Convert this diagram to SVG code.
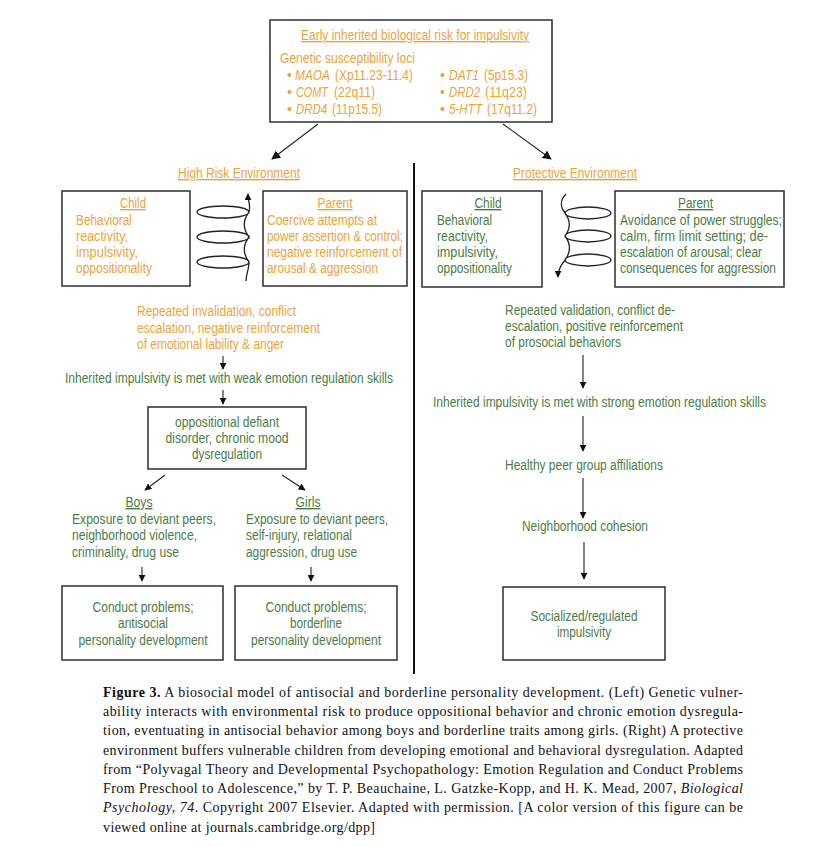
<svg xmlns="http://www.w3.org/2000/svg" width="839" height="847" viewBox="0 0 839 847">
<style>
text{font-family:"Liberation Sans",Arial,sans-serif;font-size:14px}
.o{fill:#EBA33D}
.g{fill:#4A7C44}
.i{font-style:italic}
.u{text-decoration:underline}
.m{text-anchor:middle}
.box{fill:#fff;stroke:#3a3a3a;stroke-width:1.6}
.ln{fill:none;stroke:#222;stroke-width:1.1}
.sp{fill:none;stroke:#222;stroke-width:1.3}
.cap{font-family:"Liberation Serif","Times New Roman",serif;font-size:14px;fill:#111}
</style>
<defs>
<marker id="ah" viewBox="0 0 10 10" refX="9" refY="5" markerWidth="7" markerHeight="7" markerUnits="userSpaceOnUse" orient="auto">
<path d="M0,0 L10,5 L0,10 z" fill="#111"/>
</marker>
<marker id="ahL" viewBox="0 0 10 10" refX="9" refY="5" markerWidth="9" markerHeight="9" markerUnits="userSpaceOnUse" orient="auto">
<path d="M0,0 L10,5 L0,10 z" fill="#111"/>
</marker>
</defs>
<rect width="839" height="847" fill="#fff"/>

<g id="risk">
<rect class="box" x="270" y="20" width="282" height="102"/>
<text class="o u" x="301" y="40" textLength="228" lengthAdjust="spacingAndGlyphs">Early inherited biological risk for impulsivity</text>
<text class="o" x="280" y="63" textLength="135" lengthAdjust="spacingAndGlyphs">Genetic susceptibility loci</text>
<text class="o" x="287" y="80">•</text>
<text class="o i" x="295" y="80" textLength="35" lengthAdjust="spacingAndGlyphs">MAOA</text>
<text class="o" x="335" y="80" textLength="78" lengthAdjust="spacingAndGlyphs">(Xp11.23-11.4)</text>
<text class="o" x="287" y="97">•</text>
<text class="o i" x="296" y="97" textLength="32" lengthAdjust="spacingAndGlyphs">COMT</text>
<text class="o" x="334" y="97" textLength="41" lengthAdjust="spacingAndGlyphs">(22q11)</text>
<text class="o" x="287" y="114">•</text>
<text class="o i" x="296" y="114" textLength="31" lengthAdjust="spacingAndGlyphs">DRD4</text>
<text class="o" x="332" y="114" textLength="50" lengthAdjust="spacingAndGlyphs">(11p15.5)</text>
<text class="o" x="440" y="80">•</text>
<text class="o i" x="449" y="80" textLength="30" lengthAdjust="spacingAndGlyphs">DAT1</text>
<text class="o" x="484" y="80" textLength="44" lengthAdjust="spacingAndGlyphs">(5p15.3)</text>
<text class="o" x="440" y="97">•</text>
<text class="o i" x="449" y="97" textLength="31" lengthAdjust="spacingAndGlyphs">DRD2</text>
<text class="o" x="485" y="97" textLength="42" lengthAdjust="spacingAndGlyphs">(11q23)</text>
<text class="o" x="440" y="114">•</text>
<text class="o i" x="449" y="114" textLength="33" lengthAdjust="spacingAndGlyphs">5-HTT</text>
<text class="o" x="487" y="114" textLength="50" lengthAdjust="spacingAndGlyphs">(17q11.2)</text>
</g>

<g id="high-risk-title">
<text class="o u" x="178" y="178" textLength="122" lengthAdjust="spacingAndGlyphs">High Risk Environment</text>
</g>
<g id="protective-title">
<text class="o u" x="513" y="178" textLength="124" lengthAdjust="spacingAndGlyphs">Protective Environment</text>
</g>

<g id="child-left">
<rect class="box" x="62" y="191" width="128" height="95"/>
<text class="o u m" x="133" y="208" textLength="26" lengthAdjust="spacingAndGlyphs">Child</text>
<text class="o" x="76" y="225" textLength="56" lengthAdjust="spacingAndGlyphs">Behavioral</text>
<text class="o" x="76" y="241" textLength="52" lengthAdjust="spacingAndGlyphs">reactivity,</text>
<text class="o" x="76" y="257" textLength="62" lengthAdjust="spacingAndGlyphs">impulsivity,</text>
<text class="o" x="76" y="273" textLength="76" lengthAdjust="spacingAndGlyphs">oppositionality</text>
</g>

<g id="parent-left">
<rect class="box" x="263" y="191" width="144" height="95"/>
<text class="o u m" x="335" y="208" textLength="35" lengthAdjust="spacingAndGlyphs">Parent</text>
<text class="o" x="267" y="225" textLength="110" lengthAdjust="spacingAndGlyphs">Coercive attempts at</text>
<text class="o" x="267" y="241" textLength="136" lengthAdjust="spacingAndGlyphs">power assertion &amp; control;</text>
<text class="o" x="267" y="257" textLength="135" lengthAdjust="spacingAndGlyphs">negative reinforcement of</text>
<text class="o" x="267" y="273" textLength="111" lengthAdjust="spacingAndGlyphs">arousal &amp; aggression</text>
</g>

<g id="child-right">
<rect class="box" x="422" y="191" width="120" height="96"/>
<text class="g u m" x="488" y="208" textLength="27" lengthAdjust="spacingAndGlyphs">Child</text>
<text class="g" x="437" y="225" textLength="55" lengthAdjust="spacingAndGlyphs">Behavioral</text>
<text class="g" x="437" y="241" textLength="51" lengthAdjust="spacingAndGlyphs">reactivity,</text>
<text class="g" x="437" y="257" textLength="61" lengthAdjust="spacingAndGlyphs">impulsivity,</text>
<text class="g" x="437" y="273" textLength="75" lengthAdjust="spacingAndGlyphs">oppositionality</text>
</g>

<g id="parent-right">
<rect class="box" x="615" y="191" width="169" height="96"/>
<text class="g u m" x="695.5" y="208" textLength="35" lengthAdjust="spacingAndGlyphs">Parent</text>
<text class="g" x="620" y="225" textLength="162" lengthAdjust="spacingAndGlyphs">Avoidance of power struggles;</text>
<text class="g" x="620" y="241" textLength="148" lengthAdjust="spacingAndGlyphs">calm, firm limit setting; de-</text>
<text class="g" x="620" y="257" textLength="142" lengthAdjust="spacingAndGlyphs">escalation of arousal; clear</text>
<text class="g" x="620" y="273" textLength="156" lengthAdjust="spacingAndGlyphs">consequences for aggression</text>
</g>

<g id="invalidation">
<text class="o" x="137" y="316" textLength="159" lengthAdjust="spacingAndGlyphs">Repeated invalidation, conflict</text>
<text class="o" x="137" y="333" textLength="183" lengthAdjust="spacingAndGlyphs">escalation, negative reinforcement</text>
<text class="o" x="137" y="349" textLength="147" lengthAdjust="spacingAndGlyphs">of emotional lability &amp; anger</text>
</g>
<g id="weak-skills">
<text class="g" x="65" y="383" textLength="328" lengthAdjust="spacingAndGlyphs">Inherited impulsivity is met with weak emotion regulation skills</text>
</g>
<g id="odd">
<rect class="box" x="148" y="407" width="158" height="62"/>
<text class="g m" x="227" y="427" textLength="104" lengthAdjust="spacingAndGlyphs">oppositional defiant</text>
<text class="g m" x="227" y="443" textLength="123" lengthAdjust="spacingAndGlyphs">disorder, chronic mood</text>
<text class="g m" x="227" y="459" textLength="70" lengthAdjust="spacingAndGlyphs">dysregulation</text>
</g>
<g id="boys">
<text class="g u m" x="139" y="507" textLength="27" lengthAdjust="spacingAndGlyphs">Boys</text>
<text class="g" x="72" y="524" textLength="144" lengthAdjust="spacingAndGlyphs">Exposure to deviant peers,</text>
<text class="g" x="72" y="540" textLength="125" lengthAdjust="spacingAndGlyphs">neighborhood violence,</text>
<text class="g" x="72" y="557" textLength="107" lengthAdjust="spacingAndGlyphs">criminality, drug use</text>
</g>
<g id="girls">
<text class="g u m" x="308" y="507" textLength="25" lengthAdjust="spacingAndGlyphs">Girls</text>
<text class="g" x="246" y="524" textLength="142" lengthAdjust="spacingAndGlyphs">Exposure to deviant peers,</text>
<text class="g" x="246" y="540" textLength="106" lengthAdjust="spacingAndGlyphs">self-injury, relational</text>
<text class="g" x="246" y="557" textLength="111" lengthAdjust="spacingAndGlyphs">aggression, drug use</text>
</g>
<g id="antisocial">
<rect class="box" x="62" y="586" width="161" height="74"/>
<text class="g m" x="143" y="612" textLength="101" lengthAdjust="spacingAndGlyphs">Conduct problems;</text>
<text class="g m" x="143" y="628" textLength="50" lengthAdjust="spacingAndGlyphs">antisocial</text>
<text class="g m" x="143" y="645" textLength="129" lengthAdjust="spacingAndGlyphs">personality development</text>
</g>
<g id="borderline">
<rect class="box" x="235" y="586" width="162" height="74"/>
<text class="g m" x="316" y="612" textLength="101" lengthAdjust="spacingAndGlyphs">Conduct problems;</text>
<text class="g m" x="316" y="628" textLength="52" lengthAdjust="spacingAndGlyphs">borderline</text>
<text class="g m" x="316" y="645" textLength="130" lengthAdjust="spacingAndGlyphs">personality development</text>
</g>

<g id="validation">
<text class="g" x="505" y="315" textLength="170" lengthAdjust="spacingAndGlyphs">Repeated validation, conflict de-</text>
<text class="g" x="505" y="331" textLength="178" lengthAdjust="spacingAndGlyphs">escalation, positive reinforcement</text>
<text class="g" x="505" y="347" textLength="116" lengthAdjust="spacingAndGlyphs">of prosocial behaviors</text>
</g>
<g id="strong-skills">
<text class="g" x="433" y="407" textLength="333" lengthAdjust="spacingAndGlyphs">Inherited impulsivity is met with strong emotion regulation skills</text>
</g>
<g id="peers">
<text class="g" x="505" y="470" textLength="158" lengthAdjust="spacingAndGlyphs">Healthy peer group affiliations</text>
</g>
<g id="cohesion">
<text class="g" x="522" y="531" textLength="126" lengthAdjust="spacingAndGlyphs">Neighborhood cohesion</text>
</g>
<g id="socialized">
<rect class="box" x="503" y="587" width="162" height="73"/>
<text class="g m" x="584" y="621" textLength="107" lengthAdjust="spacingAndGlyphs">Socialized/regulated</text>
<text class="g m" x="584" y="637" textLength="54" lengthAdjust="spacingAndGlyphs">impulsivity</text>
</g>

<g id="connectors">
<line x1="414" y1="163" x2="414" y2="674" stroke="#111" stroke-width="2"/>
<line class="ln" x1="318" y1="124" x2="272" y2="159" marker-end="url(#ahL)"/>
<line class="ln" x1="503" y1="124" x2="551" y2="159" marker-end="url(#ahL)"/>
<path class="sp" marker-end="url(#ah)" d="M246 281 C246 274 249 270 249 262 A26 6 0 0 1 197 262 A26 6 0 0 1 249 262 C243 254 243 245 249 237 A26 6 0 0 1 197 237 A26 6 0 0 1 249 237 C243 229 243 220 249 212 A26 6 0 0 1 197 212 A26 6 0 0 1 249 212 C251 206 248 201 248 194"/>
<path class="sp" marker-end="url(#ah)" d="M566 194 C560 200 560 207 565 213 A23 6 0 0 0 611 213 A23 6 0 0 0 565 213 C571 221 571 228 565 236 A23 6 0 0 0 611 236 A23 6 0 0 0 565 236 C571 244 571 252 565 260 A23 6 0 0 0 611 260 A23 6 0 0 0 565 260 C560 266 558 270 558 277"/>
<line class="ln" x1="223" y1="356" x2="223" y2="369" marker-end="url(#ah)"/>
<line class="ln" x1="223" y1="390" x2="223" y2="404" marker-end="url(#ah)"/>
<line class="ln" x1="165" y1="475" x2="145" y2="490" marker-end="url(#ah)"/>
<line class="ln" x1="282" y1="475" x2="305" y2="490" marker-end="url(#ah)"/>
<line class="ln" x1="142" y1="567" x2="142" y2="581" marker-end="url(#ah)"/>
<line class="ln" x1="311" y1="567" x2="311" y2="581" marker-end="url(#ah)"/>
<line class="ln" x1="583" y1="355" x2="583" y2="388" marker-end="url(#ah)"/>
<line class="ln" x1="583" y1="416" x2="583" y2="451" marker-end="url(#ah)"/>
<line class="ln" x1="583" y1="478" x2="583" y2="518" marker-end="url(#ah)"/>
<line class="ln" x1="584" y1="542" x2="584" y2="579" marker-end="url(#ah)"/>
</g>

<g id="caption">
<text class="cap" x="103" y="697" textLength="640" lengthAdjust="spacing"><tspan font-weight="bold">Figure 3.</tspan> A biosocial model of antisocial and borderline personality development. (Left) Genetic vulner-</text>
<text class="cap" x="103" y="716" textLength="640" lengthAdjust="spacing">ability interacts with environmental risk to produce oppositional behavior and chronic emotion dysregula-</text>
<text class="cap" x="103" y="735" textLength="640" lengthAdjust="spacing">tion, eventuating in antisocial behavior among boys and borderline traits among girls. (Right) A protective</text>
<text class="cap" x="103" y="755" textLength="640" lengthAdjust="spacing">environment buffers vulnerable children from developing emotional and behavioral dysregulation. Adapted</text>
<text class="cap" x="103" y="774" textLength="640" lengthAdjust="spacing">from “Polyvagal Theory and Developmental Psychopathology: Emotion Regulation and Conduct Problems</text>
<text class="cap" x="103" y="793" textLength="640" lengthAdjust="spacing">From Preschool to Adolescence,” by T. P. Beauchaine, L. Gatzke-Kopp, and H. K. Mead, 2007, <tspan font-style="italic">Biological</tspan></text>
<text class="cap" x="103" y="812" textLength="640" lengthAdjust="spacing"><tspan font-style="italic">Psychology, 74</tspan>. Copyright 2007 Elsevier. Adapted with permission. [A color version of this figure can be</text>
<text class="cap" x="103" y="832" textLength="272" lengthAdjust="spacing">viewed online at journals.cambridge.org/dpp]</text>
</g>
</svg>
